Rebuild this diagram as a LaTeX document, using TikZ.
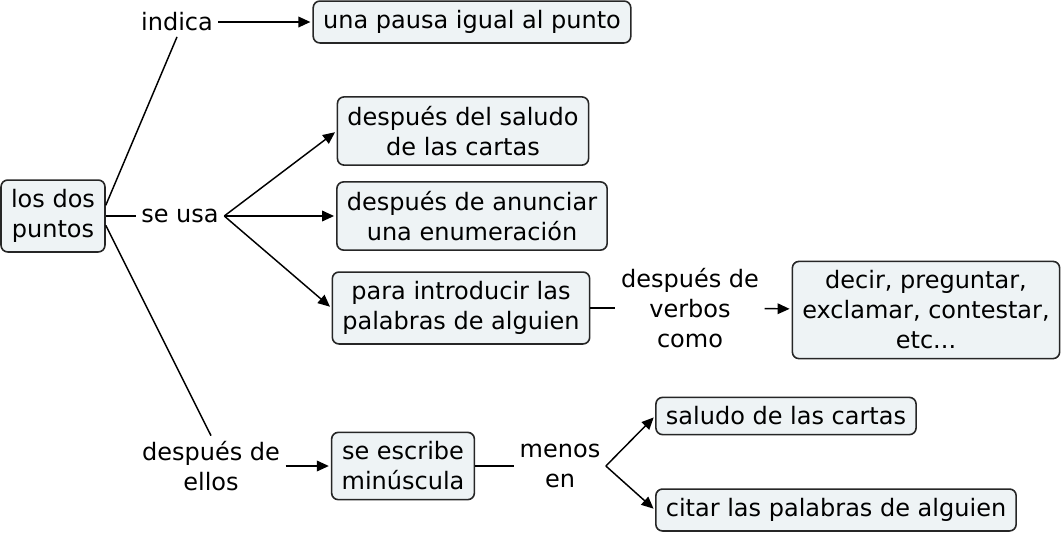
\documentclass[tikz,border=0pt]{standalone}
\usepackage{fontspec}
\setmainfont{DejaVu Sans}
\usetikzlibrary{arrows.meta}
\definecolor{boxfill}{RGB}{238,243,245}

\begin{document}
\begin{tikzpicture}[x=0.75pt,y=0.75pt,
  every node/.style={font=\fontsize{18}{22.5}\selectfont},
  concept/.style={draw=black!85, fill=boxfill, rounded corners=5pt, line width=1.2pt, align=center, inner xsep=7.5pt, inner ysep=7pt},
  linkw/.style={align=center, inner sep=4pt},
  link/.style={line width=1.1pt},
  arr/.style={line width=1.1pt, -{Triangle[length=9pt,width=8pt]}, shorten >=1.5pt}]
\useasboundingbox (0,0) rectangle (1061,-533);
% concepts
\node[concept] (puntos) at (53,-216) {los dos\\puntos};
\node[concept] (pausa) at (472,-22) {una pausa igual al punto};
\node[concept] (saludo) at (463,-131) {después del saludo\\de las cartas};
\node[concept] (anunciar) at (472,-216) {después de anunciar\\una enumeración};
\node[concept] (introducir) at (461,-308) {para introducir las\\palabras de alguien};
\node[concept] (decir) at (926,-310) {decir, preguntar,\\exclamar, contestar,\\etc...};
\node[concept] (minuscula) at (403,-466) {se escribe\\minúscula};
\node[concept] (cartas) at (786,-416) {saludo de las cartas};
\node[concept] (citar) at (836,-510) {citar las palabras de alguien};
% linking words
\node[linkw] (indica) at (177,-22) {indica};
\node[linkw] (usa) at (180,-216) {se usa};
\node[linkw] (verbos) at (690,-308) {después de\\verbos\\como};
\node[linkw] (ellos) at (211,-466) {después de\\ellos};
\node[linkw] (menos) at (560,-466) {menos\\en};
% connectors
\draw[link] ([yshift=8pt]puntos.east) -- (indica.south);
\draw[arr] (indica) -- (pausa);
\draw[link] (puntos) -- (usa);
\draw[arr] (usa.east) -- (saludo.west);
\draw[arr] (usa.east) -- (anunciar.west);
\draw[arr] (usa.east) -- (introducir.west);
\draw[link] (introducir) -- (verbos);
\draw[arr] (verbos) -- (decir);
\draw[link] ([yshift=-7pt]puntos.east) -- (ellos.north);
\draw[arr] (ellos) -- (minuscula);
\draw[link] (minuscula) -- (menos);
\draw[arr] (menos.east) -- (cartas.west);
\draw[arr] (menos.east) -- (citar.west);
\end{tikzpicture}
\end{document}
